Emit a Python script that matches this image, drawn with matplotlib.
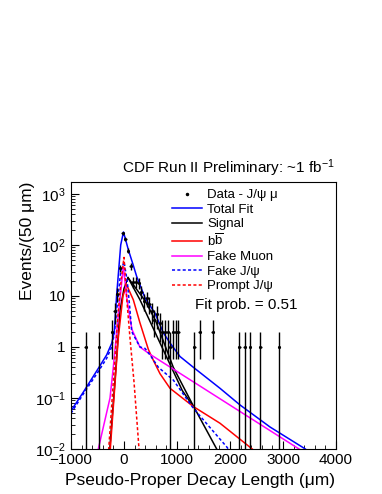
import numpy as np
import matplotlib
matplotlib.use('Agg')
import matplotlib.pyplot as plt
from matplotlib.lines import Line2D

plt.rcParams['font.family'] = ['Liberation Sans', 'DejaVu Sans']
plt.rcParams['mathtext.fontset'] = 'custom'
plt.rcParams['mathtext.rm'] = 'Liberation Sans'
plt.rcParams['mathtext.it'] = 'Liberation Sans:italic'
plt.rcParams['mathtext.bf'] = 'Liberation Sans:bold'

# data points (bin centre in um, events per 50 um)
data_x = [-725, -475, -225, -175, -125, -75, -25, 25, 75, 125, 175, 225, 275, 325, 375,
          425, 475, 525, 575, 625, 675, 725, 775, 825, 875, 925, 975, 1025,
          1325, 1425, 1675, 2175, 2275, 2375, 2575, 2925]
data_n = [1, 1, 2, 5, 11, 35, 170, 130, 77, 39, 19, 19, 18, 12, 8,
          9, 7, 5, 3.4, 4.4, 3, 2, 2, 2, 1, 2, 2, 2,
          1, 2, 2, 1, 1, 1, 1, 1]

# fit components
total_x = [-1000, -768, -485, -327, -232, -183, -140, -62, -10, 83, 175, 240, 400, 585,
           742, 868, 1057, 1308, 1811, 2189, 2755, 3415, 4000]
total_y = [0.056, 0.13, 0.38, 0.7, 1.18, 2.0, 10, 100, 180, 80, 40, 24, 9, 4.6,
           1.9, 1.2, 0.65, 0.4, 0.155, 0.073, 0.027, 0.0101, 0.0035]

signal_x = [-270, -170, -75, 0, 75, 250, 400, 600, 930, 1308, 1749, 1850]
signal_y = [0.0095, 0.22, 5.3, 14, 23, 13, 8, 3.2, 0.4, 0.07, 0.01, 0.007]
signal2_x = [75, 302, 742, 1100, 1308]
signal2_y = [23, 8.4, 0.87, 0.14, 0.068]

bb_x = [-260, -108, -20, 50, 176, 300, 459, 553, 679, 868, 1308, 1811, 2409, 2500]
bb_y = [0.0095, 1.5, 10, 16.5, 8.4, 3.0, 0.9, 0.55, 0.3, 0.155, 0.068, 0.032, 0.0102, 0.0085]

fakemu_x = [-490, -264, -202, -100, -13, 60, 150, 300, 490, 3289, 3400]
fakemu_y = [0.0095, 0.1, 0.4, 5, 37, 8, 2.2, 1.0, 0.72, 0.0102, 0.0087]

fakejpsi_x = [-1000, -768, -485, -327, -232, -183, -138, -62, 0, 60, 113, 145, 302, 396,
              490, 648, 930, 1308, 1938, 2000]
fakejpsi_y = [0.05, 0.12, 0.33, 0.6, 1.0, 1.8, 5.3, 30, 47, 20, 5.3, 2.0, 1.0, 0.94,
              0.7, 0.4, 0.225, 0.063, 0.011, 0.009]

prompt_x = [-290, -200, -108, -55, 0, 55, 113, 190, 285]
prompt_y = [0.0095, 0.22, 5.0, 20, 57, 8, 1.5, 0.2, 0.0095]

fig = plt.figure(figsize=(3.82, 4.94), dpi=100)
ax = fig.add_axes([71/382, 45/494, 265/382, 267/494])

lw = 1.1
h_tot, = ax.plot(total_x, total_y, color='#0000ff', lw=lw)
h_sig, = ax.plot(signal_x, signal_y, color='black', lw=lw)
ax.plot(signal2_x, signal2_y, color='black', lw=lw)
h_bb, = ax.plot(bb_x, bb_y, color='#ff0000', lw=lw)
h_mu, = ax.plot(fakemu_x, fakemu_y, color='#ff00ff', lw=lw)
h_fj, = ax.plot(fakejpsi_x, fakejpsi_y, color='#0000ff', lw=lw, ls=(0, (2, 1.5)))
h_pr, = ax.plot(prompt_x, prompt_y, color='#ff0000', lw=lw, ls=(0, (2, 1.5)))

n = np.array(data_n, dtype=float)
err = np.sqrt(n)
lo = np.minimum(err, n - 1e-4)
ax.errorbar(data_x, n, xerr=25, yerr=[lo, err], fmt='.', color='black', ms=2.5,
            elinewidth=1, capsize=0, zorder=5)

ax.set_yscale('log')
ax.set_xlim(-1000, 4000)
ax.set_ylim(0.01, 10**3.235)
ax.set_yticks([0.01, 0.1, 1, 10, 100, 1000])
ax.set_yticklabels(['$10^{-2}$', '$10^{-1}$', '1', '10', '$10^{2}$', '$10^{3}$'])
ax.set_xticks([-1000, 0, 1000, 2000, 3000, 4000])
ax.set_xticks(np.arange(-1000, 4001, 200), minor=True)
ax.tick_params(which='both', direction='in', labelsize=11)
ax.tick_params(which='major', length=6)
ax.tick_params(which='minor', length=3)
ax.tick_params(axis='y', pad=4)
ax.tick_params(axis='x', pad=3)

h_data = Line2D([], [], ls='none', marker='.', ms=3, color='black')
ax.legend([h_data, h_tot, h_sig, h_bb, h_mu, h_fj, h_pr],
          ['Data - J/ψ μ', 'Total Fit', 'Signal', r'b$\overline{\mathrm{b}}$',
           'Fake Muon', 'Fake J/ψ', 'Prompt J/ψ'],
          loc='upper left', bbox_to_anchor=((172-71)/265, (449-189)/267),
          frameon=False, fontsize=9.5, handlelength=2.3, handletextpad=0.35,
          labelspacing=0.17, borderpad=0, borderaxespad=0)

fig.text(335/382, 1-173/494, 'CDF Run II Preliminary: ~1 fb$^{-1}$', ha='right',
         va='baseline', fontsize=11)
fig.text(195/382, 1-309/494, 'Fit prob. = 0.51', ha='left', va='baseline', fontsize=11)
fig.text(335/382, 1-480/494, 'Pseudo-Proper Decay Length (μm)', ha='right',
         va='center', fontsize=12.5)
fig.text(28/382, 1-182/494, 'Events/(50 μm)', rotation=90, ha='center', va='top',
         fontsize=12.5)

fig.savefig('out.png', dpi=100)
